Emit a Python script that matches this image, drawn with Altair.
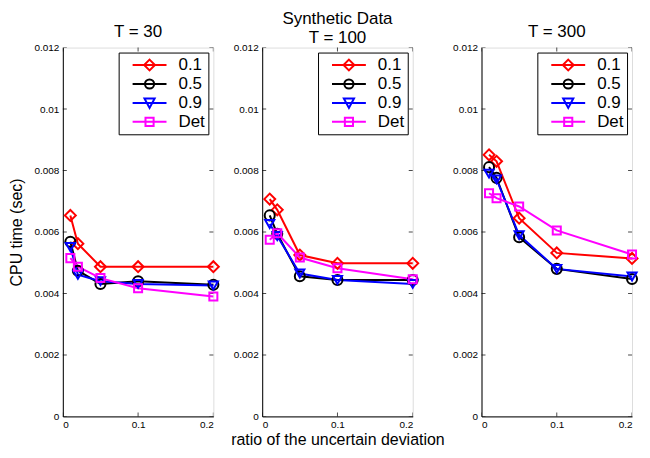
import altair as alt
import pandas as pd

ratios = [0.01, 0.02, 0.05, 0.1, 0.2]
series = ["0.1", "0.5", "0.9", "Det"]
panel_titles = ["T = 30", ["Synthetic Data", "T = 100"], "T = 300"]
x_ticks = [0, 0.1, 0.2]
y_ticks = [0, 0.002, 0.004, 0.006, 0.008, 0.01, 0.012]

t30 = {
    "0.1": [0.00654, 0.00562, 0.00487, 0.00487, 0.00487],
    "0.5": [0.00568, 0.00474, 0.00431, 0.00440, 0.00428],
    "0.9": [0.00551, 0.00461, 0.00440, 0.00431, 0.00426],
    "Det": [0.00515, 0.00487, 0.00450, 0.00417, 0.00390],
}
t100 = {
    "0.1": [0.00707, 0.00672, 0.00525, 0.00498, 0.00498],
    "0.5": [0.00654, 0.00594, 0.00456, 0.00444, 0.00444],
    "0.9": [0.00626, 0.00587, 0.00465, 0.00444, 0.00431],
    "Det": [0.00575, 0.00596, 0.00517, 0.00482, 0.00446],
}
t300 = {
    "0.1": [0.00851, 0.00830, 0.00645, 0.00532, 0.00514],
    "0.5": [0.00811, 0.00776, 0.00583, 0.00480, 0.00447],
    "0.9": [0.00790, 0.00771, 0.00590, 0.00480, 0.00455],
    "Det": [0.00726, 0.00710, 0.00683, 0.00605, 0.00527],
}
panels = [t30, t100, t300]

colors = ["#ff0000", "#000000", "#0000ff", "#ff00ff"]
marker_shapes = ["diamond", "circle", "triangle-down", "square"]
marker_sizes = [120, 65, 75, 55]
legend_shapes = [
    "M-1,0H1M0,-0.32L0.32,0L0,0.32L-0.32,0Z",
    "M-1,0H1M0.27,0A0.27,0.27 0 1,1 -0.27,0A0.27,0.27 0 1,1 0.27,0Z",
    "M-1,0H1M-0.3,-0.26L0.3,-0.26L0,0.3Z",
    "M-1,0H1M-0.24,-0.24H0.24V0.24H-0.24Z",
]
marker_keys = ["m" + s for s in series]
domain_all = series + marker_keys

FONT = "Liberation Sans"
W, H = 151, 370


def make_panel(i):
    d = panels[i]
    rows = []
    for s in series:
        for x, y in zip(ratios, d[s]):
            rows.append({"ratio": x, "cpu": y, "series": s, "marker": "m" + s})
    df = pd.DataFrame(rows)

    xaxis = alt.Axis(
        values=x_ticks, format="~g", grid=False, ticks=False,
        labelFontSize=10, labelFont=FONT, labelColor="black",
        domainColor="black", labelPadding=3,
        title="ratio of the uncertain deviation" if i == 1 else None,
        titleFontSize=16, titleFont=FONT, titleFontWeight="normal",
        titleColor="black", titlePadding=2,
    )
    yaxis = alt.Axis(
        values=y_ticks, format="~g",
        grid=False, ticks=False, labelFontSize=10, labelFont=FONT,
        labelColor="black", domainColor="black", labelPadding=4,
        title="CPU time (sec)" if i == 0 else None,
        titleFontSize=16, titleFont=FONT, titleFontWeight="normal",
        titleColor="black", titlePadding=9,
    )
    xs = alt.Scale(domain=[0, 0.2], nice=False)
    ys = alt.Scale(domain=[0, 0.012], nice=False)
    x = alt.X("ratio:Q", scale=xs, axis=xaxis)
    y = alt.Y("cpu:Q", scale=ys, axis=yaxis)
    legend = alt.Legend(
        title=None, orient="top-right", offset=5, values=series,
        symbolSize=1156, symbolStrokeWidth=2, symbolFillColor="transparent",
        labelFontSize=17, labelFont=FONT, labelColor="black",
        strokeColor="black", fillColor="white", padding=3,
        rowPadding=0, clipHeight=19, labelOffset=11, symbolOffset=10,
    )
    cscale = alt.Scale(domain=domain_all, range=colors + colors)
    sscale = alt.Scale(domain=domain_all, range=legend_shapes + marker_shapes)
    zscale = alt.Scale(domain=marker_keys, range=marker_sizes)

    lines = alt.Chart(df).mark_line(strokeWidth=2).encode(
        x=x, y=y, color=alt.Color("series:N", scale=cscale, legend=legend))
    pts = alt.Chart(df).mark_point(filled=False, strokeWidth=2, opacity=1).encode(
        x=x, y=y,
        color=alt.Color("marker:N", scale=cscale, legend=legend),
        shape=alt.Shape("marker:N", scale=sscale, legend=legend),
        size=alt.Size("marker:N", scale=zscale, legend=None))

    ytk = pd.DataFrame({"v": y_ticks})
    xtk = pd.DataFrame({"v": x_ticks})
    tick_y_left = alt.Chart(ytk).mark_tick(orient="horizontal", size=8, thickness=1,
                                           color="black", clip=True).encode(
        x=alt.datum(0, scale=xs), y=alt.Y("v:Q", scale=ys))
    tick_y_right = alt.Chart(ytk).mark_tick(orient="horizontal", size=8, thickness=1,
                                            color="black", clip=True).encode(
        x=alt.datum(0.2, scale=xs), y=alt.Y("v:Q", scale=ys))
    tick_x_bot = alt.Chart(xtk).mark_tick(orient="vertical", size=8, thickness=1,
                                          color="black", clip=True).encode(
        x=alt.X("v:Q", scale=xs), y=alt.datum(0, scale=ys))
    tick_x_top = alt.Chart(xtk).mark_tick(orient="vertical", size=8, thickness=1,
                                          color="black", clip=True).encode(
        x=alt.X("v:Q", scale=xs), y=alt.datum(0.012, scale=ys))

    t = panel_titles[i]
    title = alt.Title(t, fontSize=17, font=FONT, fontWeight="normal", color="black",
                      anchor="middle", frame="group",
                      offset=-4 if i == 1 else 2, lineHeight=19)
    return alt.layer(tick_y_left, tick_y_right, tick_x_bot, tick_x_top, lines, pts).properties(
        width=W, height=H, title=title)


chart = alt.hconcat(*[make_panel(i) for i in range(3)], spacing=6).resolve_scale(
    color="independent", shape="independent", size="independent"
).configure_view(stroke="black", strokeWidth=1).configure(background="white").properties(
    padding=0)

chart.save("out.html", embed_options={"renderer": "svg", "actions": False})
